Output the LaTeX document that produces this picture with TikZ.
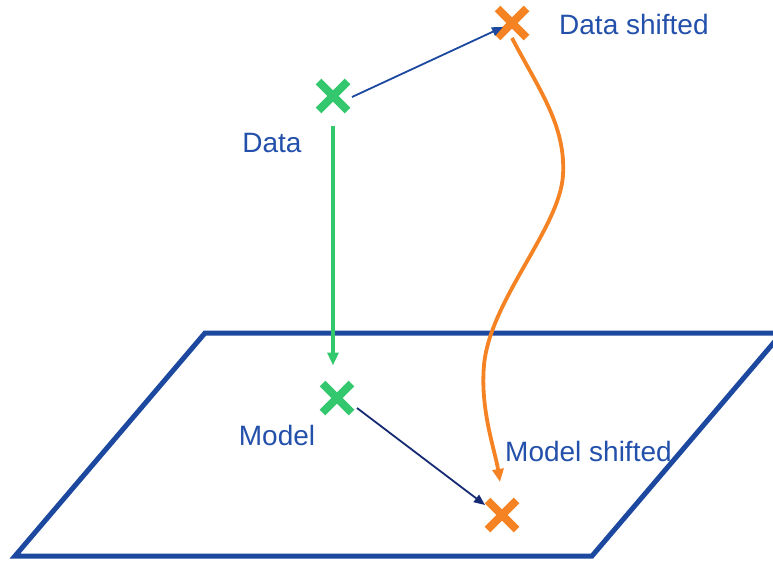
\documentclass[tikz,border=0pt]{standalone}
\usepackage{fontspec}
\setmainfont{Liberation Sans}
\usetikzlibrary{shapes.misc,arrows.meta}
\definecolor{planeblue}{RGB}{28,72,160}
\definecolor{labelblue}{RGB}{35,80,170}
\definecolor{navyarrow}{RGB}{22,42,115}
\definecolor{ptgreen}{RGB}{52,200,110}
\definecolor{ptorange}{RGB}{245,130,35}
\begin{document}
\begin{tikzpicture}[x=1pt,y=-1pt,
  xmark/.style={cross out, draw, line width=8pt, minimum size=21pt, inner sep=0pt},
  lbl/.style={text=labelblue, font=\fontsize{28}{32}\selectfont, inner sep=0pt},
  thinarrow/.style={line width=1.8pt, -{Triangle[length=11pt,width=9pt]}},
  thickarrow/.style={line width=3.8pt, -{Triangle[length=13pt,width=11pt]}}]
  \useasboundingbox (0,0) rectangle (773,562);
  \clip (0,0) rectangle (773,562);

  % the model plane
  \draw[planeblue, line width=5pt, line join=miter]
    (205,333) -- (782,333) -- (592,556) -- (15,556) -- cycle;

  % points
  \node[xmark, draw=ptgreen]  (d)  at (333,96)  {};
  \node[xmark, draw=ptorange] (ds) at (512,23)  {};
  \node[xmark, draw=ptgreen]  (m)  at (337,398) {};
  \node[xmark, draw=ptorange] (ms) at (502,515) {};

  % labels
  \node[lbl] (dl) at (272,143) {Data};
  \node[lbl] (ml) at (277,435) {Model};
  \node[lbl, anchor=west] (dsl) at (559,24)  {Data shifted};
  \node[lbl, anchor=west] (msl) at (505,451) {Model shifted};

  % projection of the data onto the plane
  \draw[thickarrow, ptgreen, shorten <=15pt, shorten >=18pt]
    (d.south) -- (d.south |- m.north);

  % shifts
  \draw[thinarrow, planeblue]
    ([shift={(19,1)}]d.center) -- ([shift={(-9,4)}]ds.center);
  \draw[thinarrow, navyarrow]
    ([shift={(20,10)}]m.center) -- ([shift={(-17,-10)}]ms.center);

  % projection of the shifted data
  \draw[thickarrow, ptorange]
    ([shift={(0,15)}]ds.center)
      .. controls (538,88) and (566,125) .. (563,175)
      .. controls (560,228) and (490,300) .. (484,365)
      .. controls (480,410) and (495,450) .. ([shift={(-2,-33)}]ms.center);
\end{tikzpicture}
\end{document}
